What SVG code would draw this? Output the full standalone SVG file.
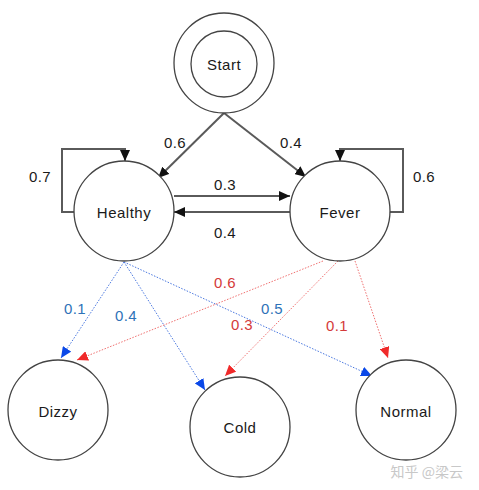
<svg xmlns="http://www.w3.org/2000/svg" width="479" height="490" viewBox="0 0 479 490">
  <style>
    .node circle { fill: #fff; stroke: #444; stroke-width: 1.3; }
    .lbl { font-family: "Liberation Sans", Arial, sans-serif; font-size: 15px; letter-spacing: 0.5px; fill: #1a1a1a; text-anchor: middle; dominant-baseline: central; }
    .num { font-family: "Liberation Sans", Arial, sans-serif; font-size: 15px; letter-spacing: 0.4px; text-anchor: middle; dominant-baseline: central; }
    .dark { fill: #1a1a1a; }
    .blue { fill: #2e72b8; }
    .red { fill: #d43a3a; }
    .trans { fill: none; stroke: #5a5a5a; stroke-width: 2; }
    .emb { fill: none; stroke: #4a78e0; stroke-width: 1; stroke-dasharray: 1.5 1.5; }
    .emr { fill: none; stroke: #f07070; stroke-width: 1; stroke-dasharray: 1.5 1.5; }
  </style>
  <defs>
    <marker id="arrK" markerUnits="userSpaceOnUse" markerWidth="12" markerHeight="10" refX="11" refY="5" orient="auto">
      <path d="M0,0 L11,5 L0,10 Z" fill="#111"/>
    </marker>
    <marker id="arrB" markerUnits="userSpaceOnUse" markerWidth="12" markerHeight="10" refX="11" refY="5" orient="auto">
      <path d="M0,0 L11,5 L0,10 Z" fill="#0a48e8"/>
    </marker>
    <marker id="arrR" markerUnits="userSpaceOnUse" markerWidth="12" markerHeight="10" refX="11" refY="5" orient="auto">
      <path d="M0,0 L11,5 L0,10 Z" fill="#f02a2a"/>
    </marker>
  </defs>

  <rect width="479" height="490" fill="#fff"/>

  <!-- connectors -->
  <g id="connectors">
    <!-- state transitions -->
    <path class="trans" d="M224,113 L158,178" marker-end="url(#arrK)"/>
    <path class="trans" d="M224,113 L306,177" marker-end="url(#arrK)"/>
    <path class="trans" d="M74,212 H62 V149 H125 V161" marker-end="url(#arrK)"/>
    <path class="trans" d="M389,212 H403 V149 H340 V161" marker-end="url(#arrK)"/>
    <path class="trans" d="M174,196 H290" marker-end="url(#arrK)"/>
    <path class="trans" d="M290,212 H174" marker-end="url(#arrK)"/>

    <!-- emissions from Healthy -->
    <path class="emb" d="M124,262 L61,358" marker-end="url(#arrB)"/>
    <path class="emb" d="M124,262 L205,390" marker-end="url(#arrB)"/>
    <path class="emb" d="M124,262 L372,376" marker-end="url(#arrB)"/>

    <!-- emissions from Fever -->
    <path class="emr" d="M323,261 L77,360" marker-end="url(#arrR)"/>
    <path class="emr" d="M338,261 L225,376" marker-end="url(#arrR)"/>
    <path class="emr" d="M355,261 L388,358" marker-end="url(#arrR)"/>

    <!-- probabilities -->
    <text class="num dark" x="175" y="142">0.6</text>
    <text class="num dark" x="291" y="142">0.4</text>
    <text class="num dark" x="40" y="176">0.7</text>
    <text class="num dark" x="424" y="176">0.6</text>
    <text class="num dark" x="225" y="184">0.3</text>
    <text class="num dark" x="225" y="232">0.4</text>

    <text class="num blue" x="75" y="308">0.1</text>
    <text class="num blue" x="126" y="315">0.4</text>
    <text class="num blue" x="272" y="308">0.5</text>
    <text class="num red" x="225" y="282">0.6</text>
    <text class="num red" x="242" y="324">0.3</text>
    <text class="num red" x="337" y="325">0.1</text>
  </g>

  <!-- nodes -->
  <g id="start" class="node">
    <circle cx="224" cy="63" r="50"/>
    <circle cx="224" cy="64" r="33"/>
    <text class="lbl" x="224" y="64">Start</text>
  </g>
  <g id="healthy" class="node">
    <circle cx="124" cy="211" r="50"/>
    <text class="lbl" x="124" y="212">Healthy</text>
  </g>
  <g id="fever" class="node">
    <circle cx="340" cy="211" r="50"/>
    <text class="lbl" x="340" y="212">Fever</text>
  </g>
  <g id="dizzy" class="node">
    <circle cx="58" cy="410" r="50"/>
    <text class="lbl" x="58" y="411">Dizzy</text>
  </g>
  <g id="cold" class="node">
    <circle cx="240" cy="427" r="50"/>
    <text class="lbl" x="240" y="427">Cold</text>
  </g>
  <g id="normal" class="node">
    <circle cx="406" cy="410" r="50"/>
    <text class="lbl" x="406" y="411">Normal</text>
  </g>

  <text x="463" y="477" text-anchor="end" font-family="'Noto Sans CJK SC', sans-serif" font-size="14" fill="#c8c8c8">知乎 @梁云</text>
</svg>
